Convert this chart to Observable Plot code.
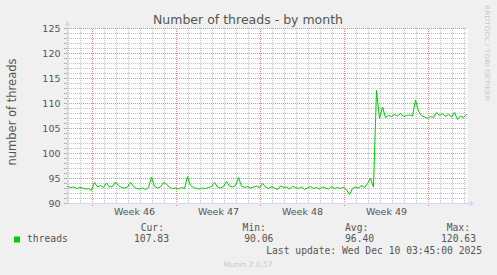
<!DOCTYPE html>
<html>
<head>
<meta charset="utf-8">
<script src="https://cdn.jsdelivr.net/npm/d3@7"></script>
<script src="https://cdn.jsdelivr.net/npm/@observablehq/plot@0.6"></script>
<style>
  html, body { margin: 0; padding: 0; background: #f0f0f0; }
  svg { display: block; }
</style>
</head>
<body>
<script>
// ---- data ----
const title = "Number of threads - by month";
const yLabel = "number of threads";
const seriesName = "threads";
const startTime = Date.UTC(2025, 10, 7, 22);      // left edge of graph
const endTime = startTime + 800 * 3600e3;          // right edge of graph
const stepHours = 6;                               // one sample every 6 h
const threads = [
  93.4, 93.2, 93.3, 93.0, 93.2, 93.1, 92.9, 93.0, 92.6, 94.2,
  93.3, 93.6, 93.2, 94.1, 93.3, 93.4, 94.3, 93.6, 93.2, 93.1,
  93.3, 94.2, 93.4, 93.0, 92.9, 93.1, 92.8, 93.2, 95.3, 93.4,
  93.1, 93.3, 94.2, 93.9, 93.2, 93.0, 93.1, 92.9, 93.2, 93.0,
  95.4, 93.6, 93.2, 93.0, 92.9, 93.1, 93.0, 93.2, 93.4, 94.2,
  93.3, 93.1, 93.4, 94.4, 93.5, 93.3, 93.6, 95.2, 93.5, 93.2,
  93.4, 93.1, 93.3, 93.5, 93.2, 94.0, 93.3, 93.0, 93.4, 93.1,
  92.8, 93.5, 93.2, 93.3, 92.9, 93.4, 93.2, 93.0, 93.3, 92.8,
  93.1, 93.4, 93.0, 93.2, 92.9, 93.3, 93.1, 92.9, 93.4, 93.0,
  93.2, 93.0, 93.3, 92.7, 91.8, 93.0, 93.3, 93.1, 93.6, 93.2,
  94.0, 95.0, 93.3, 112.6, 107.0, 109.3, 107.2, 107.6, 107.4, 107.8,
  107.5, 108.0, 107.4, 107.6, 107.7, 107.5, 110.7, 108.5, 107.6, 107.3,
  107.0, 107.4, 107.2, 108.2, 107.6, 108.0, 107.4, 107.8, 107.3, 108.2,
  106.8, 107.5, 107.2, 107.8
];
const weekStarts = [Date.UTC(2025,10,10), Date.UTC(2025,10,17), Date.UTC(2025,10,24), Date.UTC(2025,11,1), Date.UTC(2025,11,8)];
const weekLabels = ["Week 46", "Week 47", "Week 48", "Week 49"];
const yTicks = [90, 95, 100, 105, 110, 115, 120, 125];
const statHeaders = ["Cur:", "Min:", "Avg:", "Max:"];
const statValues = ["107.83", "90.06", "96.40", "120.63"];
const lastUpdate = "Last update: Wed Dec 10 03:45:00 2025";
const footer = "Munin 2.0.57";
const watermark = "RRDTOOL / TOBI OETIKER";

// ---- derived tables ----
const data = threads.map((v, i) => ({t: new Date(startTime + i * stepHours * 3600e3), v}));
const weekDates = weekStarts.map(d => new Date(d));
const weekMids = weekLabels.map((_, i) => new Date((weekStarts[i] + weekStarts[i + 1]) / 2));
const days = d3.utcDay.range(new Date(startTime), new Date(endTime)).filter(d => !weekStarts.includes(+d));
const minorY = d3.range(90, 126).filter(v => v % 5 !== 0);
const allY = d3.range(90, 126);

const gray = "#555";
const axisColor = "#CFD6F8";
const lineColor = "#00cc00";
const minorColor = "#c2c2c2";
const majorColor = "#e08a8a";

const svg = Plot.plot({
  width: 497, height: 275,
  marginLeft: 67, marginRight: 30, marginTop: 28, marginBottom: 72,
  style: {background: "#f0f0f0", fontFamily: "DejaVu Sans", fontSize: "9.5px", color: gray, overflow: "visible"},
  x: {type: "utc", domain: [new Date(startTime), new Date(endTime)]},
  y: {domain: [90, 125]},
  marks: [
    Plot.frame({fill: "white", stroke: null}),
    Plot.ruleX(days, {x: d => d, stroke: minorColor, strokeDasharray: "1,1"}),
    Plot.ruleY(minorY, {y: d => d, stroke: minorColor, strokeDasharray: "1,1"}),
    Plot.ruleX(weekDates, {x: d => d, y1: 89.4, y2: 125, stroke: majorColor, strokeDasharray: "1,1"}),
    Plot.ruleY(yTicks, {y: d => d, stroke: majorColor, strokeDasharray: "1,1"}),
    Plot.axisY({ticks: allY, tickFormat: d => d % 5 ? "" : d, tickSize: 3, tickPadding: 4, label: null, stroke: "#b0b0b0", fill: gray}),
    Plot.axisX({ticks: weekMids, tickFormat: (d, i) => weekLabels[i], tickSize: 0, tickPadding: 5, label: null, fill: gray}),
    Plot.ruleY([90], {x1: new Date(startTime), x2: new Date(endTime + 8 * 3600e3), stroke: axisColor}),
    Plot.ruleX([new Date(startTime)], {y1: 90, y2: 126, stroke: axisColor}),
    Plot.dot([0], {x: () => new Date(endTime + 8 * 3600e3), y: 90, symbol: "triangle2", r: 2.6, fill: axisColor, rotate: 90}),
    Plot.dot([0], {x: () => new Date(startTime), y: 125.9, symbol: "triangle2", r: 2.6, fill: axisColor}),
    Plot.lineY(data, {x: "t", y: "v", stroke: lineColor, strokeWidth: 1})
  ]
});

const s = d3.select(svg);
const sans = "DejaVu Sans", mono = "DejaVu Sans Mono";
function txt(x, y, str, family, size, fill, anchor) {
  return s.append("text").attr("x", x).attr("y", y).attr("text-anchor", anchor || "start")
    .attr("font-family", family).attr("font-size", size).attr("fill", fill).text(str);
}
txt(248, 23.5, title, sans, "12.5px", gray, "middle");
s.append("text").attr("transform", "translate(15.5,112) rotate(-90)").attr("text-anchor", "middle")
  .attr("font-family", sans).attr("font-size", "11.5px").attr("fill", gray).text(yLabel);
s.append("text").attr("transform", "translate(485,5) rotate(90)").attr("text-anchor", "start")
  .attr("font-family", sans).attr("font-size", "6.5px").attr("fill", "#c8c8c8")
  .attr("textLength", 96).attr("lengthAdjust", "spacingAndGlyphs").text(watermark);

// legend
const legendSize = "9.7px";
s.append("rect").attr("x", 14).attr("y", 236.5).attr("width", 6).attr("height", 6).attr("fill", lineColor);
txt(27, 242, seriesName, mono, legendSize, gray);
const headerX = [140.7, 242.6, 345, 446.7];
const valueX = [134, 244.2, 345, 441];
statHeaders.forEach((h, i) => {
  txt(headerX[i], 231, h, mono, legendSize, gray);
  txt(valueX[i], 242, statValues[i], mono, legendSize, gray);
});
txt(482, 254, lastUpdate, mono, legendSize, gray, "end");
txt(248, 267, footer, sans, "7.5px", "#c8c8c8", "middle");

document.body.appendChild(svg);
</script>
</body>
</html>
